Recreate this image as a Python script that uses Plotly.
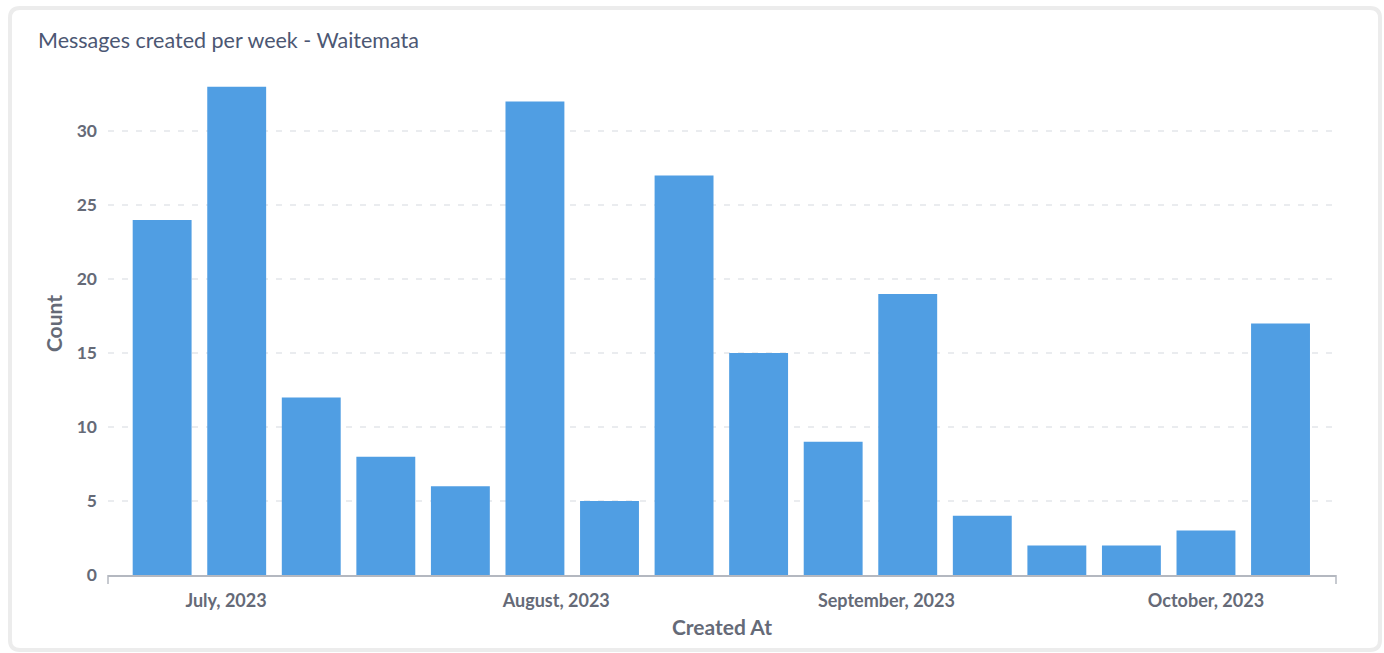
import plotly.graph_objects as go

# Weekly message counts (week starting on Sunday)
week_start = [
    "2023-06-25", "2023-07-02", "2023-07-09", "2023-07-16",
    "2023-07-23", "2023-07-30", "2023-08-06", "2023-08-13",
    "2023-08-20", "2023-08-27", "2023-09-03", "2023-09-10",
    "2023-09-17", "2023-09-24", "2023-10-01", "2023-10-08",
]
message_count = [24, 33, 12, 8, 6, 32, 5, 27, 15, 9, 19, 4, 2, 2, 3, 17]

month_ticks = ["2023-07-01", "2023-08-01", "2023-09-01", "2023-10-01"]
month_labels = ["July, 2023", "August, 2023", "September, 2023", "October, 2023"]
count_ticks = [0, 5, 10, 15, 20, 25, 30]

W, H = 1384, 653
PL, PR, PT, PB = 108, 1336, 72, 575  # plot area in pixels

def fx(px):
    return (px - PL) / (PR - PL)

def fy(py):
    return (PB - py) / (PB - PT)

BLUE = "#509ee3"
TEXT_DARK = "#4c5773"
TEXT_MED = "#656a77"
AXIS = "#b4b8c0"

fig = go.Figure(
    go.Bar(
        x=week_start,
        y=message_count,
        marker=dict(color=BLUE, line=dict(width=0)),
        hovertemplate="%{x|%b %d, %Y}: %{y}<extra></extra>",
    )
)

# Rounded card outline behind the chart
x0, x1, y0, y1, r = 10, 1380, 8, 650, 10
card = (
    f"M {fx(x0 + r)},{fy(y0)} L {fx(x1 - r)},{fy(y0)} "
    f"Q {fx(x1)},{fy(y0)} {fx(x1)},{fy(y0 + r)} "
    f"L {fx(x1)},{fy(y1 - r)} Q {fx(x1)},{fy(y1)} {fx(x1 - r)},{fy(y1)} "
    f"L {fx(x0 + r)},{fy(y1)} Q {fx(x0)},{fy(y1)} {fx(x0)},{fy(y1 - r)} "
    f"L {fx(x0)},{fy(y0 + r)} Q {fx(x0)},{fy(y0)} {fx(x0 + r)},{fy(y0)} Z"
)

shapes = [
    dict(type="path", xref="paper", yref="paper", path=card,
         fillcolor="white", line=dict(color="#ececec", width=4), layer="below"),
    # small end ticks on the x axis line
    dict(type="line", xref="paper", yref="paper",
         x0=0, x1=0, y0=0, y1=fy(PB + 9), line=dict(color=AXIS, width=1.5)),
    dict(type="line", xref="paper", yref="paper",
         x0=1, x1=1, y0=0, y1=fy(PB + 9), line=dict(color=AXIS, width=1.5)),
]

fig.update_layout(
    width=W,
    height=H,
    margin=dict(l=PL, r=W - PR, t=PT, b=H - PB, pad=0),
    paper_bgcolor="white",
    plot_bgcolor="rgba(0,0,0,0)",
    font=dict(family="Lato", color=TEXT_MED),
    showlegend=False,
    bargap=0.21,
    title=dict(
        text="Messages created per week - Waitemata",
        x=38 / W, xanchor="left", xref="container",
        y=1 - 40 / H, yanchor="middle", yref="container",
        font=dict(family="Lato", size=21.5, color=TEXT_DARK),
    ),
    shapes=shapes,
)

fig.update_xaxes(
    type="date",
    range=["2023-06-19 22:00", "2023-10-13 05:00"],
    tickmode="array",
    tickvals=month_ticks,
    ticktext=month_labels,
    ticks="",
    ticklabelstandoff=9,
    tickfont=dict(family="Lato", size=18, color=TEXT_MED, weight="bold"),
    showgrid=False,
    showline=True,
    linecolor=AXIS,
    linewidth=1.5,
    zeroline=False,
    title=dict(text="Created At", standoff=10,
               font=dict(family="Lato", size=21, color=TEXT_MED, weight="bold")),
)

fig.update_yaxes(
    range=[0, 34],
    tickmode="array",
    tickvals=count_ticks,
    ticks="",
    ticklabelstandoff=10,
    tickfont=dict(family="Lato", size=17.5, color=TEXT_MED, weight="bold"),
    showgrid=True,
    gridcolor="#eaecef",
    gridwidth=1.5,
    griddash="6px,8px",
    showline=False,
    zeroline=False,
    title=dict(text="Count", standoff=8,
               font=dict(family="Lato", size=21, color=TEXT_MED, weight="bold")),
)

fig.write_html("out.html")
